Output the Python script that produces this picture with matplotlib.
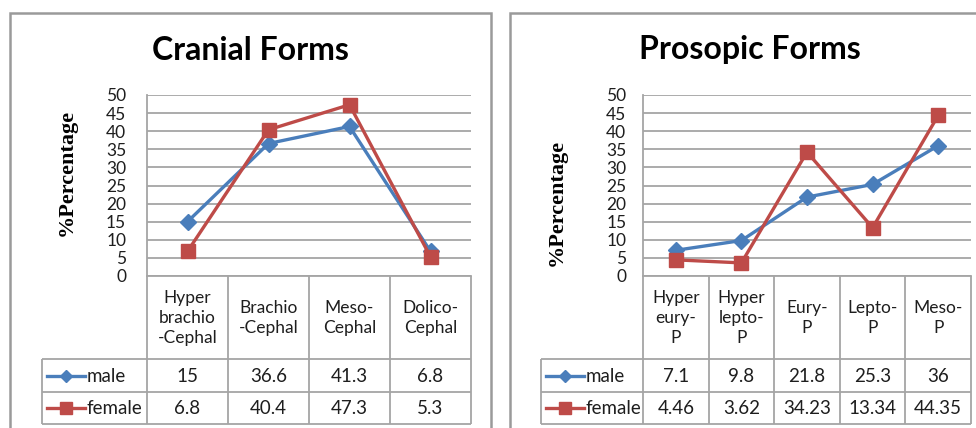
import matplotlib
matplotlib.use("Agg")
import matplotlib.pyplot as plt
from matplotlib.patches import Rectangle

# ---- data -------------------------------------------------------------
cranial_categories = ["Hyper\nbrachio\n-Cephal", "Brachio\n-Cephal", "Meso-\nCephal", "Dolico-\nCephal"]
cranial_male = [15, 36.6, 41.3, 6.8]
cranial_female = [6.8, 40.4, 47.3, 5.3]
cranial_male_labels = ["15", "36.6", "41.3", "6.8"]
cranial_female_labels = ["6.8", "40.4", "47.3", "5.3"]

prosopic_categories = ["Hyper\neury-\nP", "Hyper\nlepto-\nP", "Eury-\nP", "Lepto-\nP", "Meso-\nP"]
prosopic_male = [7.1, 9.8, 21.8, 25.3, 36]
prosopic_female = [4.46, 3.62, 34.23, 13.34, 44.35]
prosopic_male_labels = ["7.1", "9.8", "21.8", "25.3", "36"]
prosopic_female_labels = ["4.46", "3.62", "34.23", "13.34", "44.35"]

y_ticks = [0, 5, 10, 15, 20, 25, 30, 35, 40, 45, 50]
series_names = ["male", "female"]

# ---- style ------------------------------------------------------------
W, H = 976, 428
BLUE = "#4A7EBB"
RED = "#BE4B48"
GRID = "#A5A5A5"
FRAME = "#9A9A9A"
TEXT = "#1E1E1E"
SANS = ["Lato", "DejaVu Sans"]
SERIF = ["Liberation Serif", "DejaVu Serif"]

fig = plt.figure(figsize=(W / 100, H / 100), dpi=100)
fig.patch.set_facecolor("white")


def fx(px):
    return px / W


def fy(py):
    return 1 - py / H


def panel(frame_x0, frame_x1, plot_x0, plot_x1, legend_x0, title, title_cx,
          ylabel_cx, ylabel_cy, tick_pad, categories, male, female,
          male_labels, female_labels):
    plot_top, plot_bottom = 95, 276
    table_bottom = 424
    row1, row2 = 359, 392

    # chart frame
    fig.add_artist(Rectangle((fx(frame_x0), fy(440)), fx(frame_x1 - frame_x0),
                             (440 - 13) / H, transform=fig.transFigure,
                             facecolor="none", edgecolor=FRAME, lw=1.8))

    fig.text(fx(title_cx), fy(50), title, ha="center", va="center",
             fontsize=23, fontweight="bold", family=SANS, color="black")
    fig.text(fx(ylabel_cx), fy(ylabel_cy), "%Percentage", rotation=90,
             ha="center", va="center", fontsize=16, fontweight="bold",
             family=SERIF, color="black")

    n = len(categories)
    ax = fig.add_axes([fx(plot_x0), fy(plot_bottom), fx(plot_x1 - plot_x0),
                       (plot_bottom - plot_top) / H])
    ax.set_xlim(-0.5, n - 0.5)
    ax.set_ylim(0, 50)
    ax.set_yticks(y_ticks)
    ax.set_yticklabels([str(t) for t in y_ticks], family=SANS, fontsize=12.5,
                       color=TEXT)
    ax.tick_params(axis="y", length=0, pad=tick_pad)
    ax.set_xticks([])
    ax.yaxis.grid(True, color=GRID, lw=1.3)
    ax.set_axisbelow(True)
    for s in ["top", "right"]:
        ax.spines[s].set_visible(False)
    for s in ["left", "bottom"]:
        ax.spines[s].set_color(GRID)
        ax.spines[s].set_linewidth(1.3)

    xs = list(range(n))
    ax.plot(xs, male, color=BLUE, lw=2.4, marker="D", ms=8.5,
            markerfacecolor=BLUE, markeredgecolor=BLUE, zorder=3, clip_on=False)
    ax.plot(xs, female, color=RED, lw=2.4, marker="s", ms=9.5,
            markerfacecolor=RED, markeredgecolor=RED, zorder=4, clip_on=False)

    # data table beneath the plot, sharing the category positions
    col_w = (plot_x1 - plot_x0) / n
    left_units = (plot_x0 - legend_x0) / col_w
    tab = fig.add_axes([fx(legend_x0), fy(table_bottom),
                        fx(plot_x1 - legend_x0), (table_bottom - plot_bottom) / H])
    tab.set_xlim(-0.5 - left_units, n - 0.5)
    tab.set_ylim(table_bottom - plot_bottom, 0)
    tab.axis("off")

    def ty(py):
        return py - plot_bottom

    lkw = dict(color=GRID, lw=1.3, clip_on=False, solid_capstyle="butt")
    x_left = -0.5 - left_units
    for b in range(n + 1):
        tab.plot([b - 0.5, b - 0.5], [ty(plot_bottom), ty(table_bottom)], **lkw)
    tab.plot([x_left, x_left], [ty(row1), ty(table_bottom)], **lkw)
    for yy in (row1, row2, table_bottom):
        tab.plot([x_left, n - 0.5], [ty(yy), ty(yy)], **lkw)

    for i, cat in enumerate(categories):
        tab.text(i, ty(318), cat, ha="center", va="center", fontsize=12.5,
                 family=SANS, color=TEXT, linespacing=1.3)
        tab.text(i, ty(376), male_labels[i], ha="center", va="center",
                 fontsize=13.5, family=SANS, color=TEXT)
        tab.text(i, ty(408), female_labels[i], ha="center", va="center",
                 fontsize=13.5, family=SANS, color=TEXT)

    # legend keys inside the table
    px_unit = 1 / col_w
    key_x0 = x_left + 5 * px_unit
    key_x1 = x_left + 43 * px_unit
    key_c = (key_x0 + key_x1) / 2
    for name, yy, col, mk, ms in ((series_names[0], 376, BLUE, "D", 6.5),
                                  (series_names[1], 408, RED, "s", 9)):
        tab.plot([key_x0, key_x1], [ty(yy), ty(yy)], color=col, lw=2.4,
                 clip_on=False)
        tab.plot([key_c], [ty(yy)], marker=mk, ms=ms, color=col, clip_on=False)
        tab.text(key_x1 + 2 * px_unit, ty(yy), name, ha="left", va="center",
                 fontsize=13.5, family=SANS, color=TEXT)


panel(10, 491, 147, 471, 42, "Cranial Forms", 250, 67, 172, 15,
      cranial_categories, cranial_male, cranial_female,
      cranial_male_labels, cranial_female_labels)
panel(510, 990, 643, 971, 541, "Prosopic Forms", 750, 557, 202, 12,
      prosopic_categories, prosopic_male, prosopic_female,
      prosopic_male_labels, prosopic_female_labels)

fig.savefig("out.png", dpi=100, facecolor="white")
